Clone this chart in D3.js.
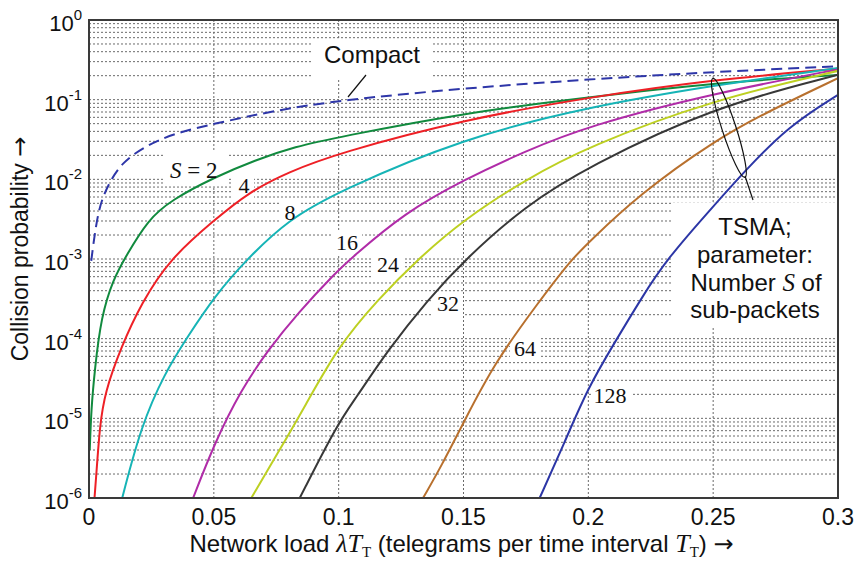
<!DOCTYPE html>
<html>
<head>
<meta charset="utf-8">
<script src="https://cdn.jsdelivr.net/npm/d3@7"></script>
<style>
  body { margin: 0; background: #fff; }
  svg { display: block; }
</style>
</head>
<body>
<div id="chart"></div>
<script>
// x ticks (network load) and y decades
const loadTicks = [0, 0.05, 0.1, 0.15, 0.2, 0.25, 0.3];
const loadTickLabels = ["0", "0.05", "0.1", "0.15", "0.2", "0.25", "0.3"];
const decadeExps = [0, -1, -2, -3, -4, -5, -6];

// Compact telegram (dashed)
const loadCompact = [0.0009, 0.0036, 0.0076, 0.0129, 0.0223, 0.0343, 0.0503, 0.0744, 0.1, 0.15, 0.2, 0.25, 0.3];
const probCompact = [9.5e-4, 4.3e-3, 8.5e-3, 1.6e-2, 2.6e-2, 3.8e-2, 5.0e-2, 7.3e-2, 0.098, 0.139, 0.18, 0.223, 0.262];

// TSMA, S = 2
const loadS2 = [0.0003, 0.0009, 0.0023, 0.0049, 0.0096, 0.0149, 0.0236, 0.0329, 0.0505, 0.0665, 0.0825, 0.1, 0.15, 0.2, 0.25, 0.3];
const probS2 = [4.0e-6, 1.3e-5, 4.1e-5, 1.9e-4, 5.5e-4, 1.1e-3, 3.1e-3, 5.5e-3, 1.07e-2, 1.74e-2, 2.57e-2, 3.4e-2, 6.8e-2, 0.107, 0.162, 0.204];

// S = 4
const loadS4 = [0.0022, 0.0029, 0.0043, 0.0063, 0.0129, 0.021, 0.0323, 0.0503, 0.0637, 0.0797, 0.1, 0.15, 0.2, 0.25, 0.3];
const probS4 = [1.0e-6, 1.9e-6, 7.9e-6, 2.1e-5, 7.9e-5, 2.8e-4, 1.0e-3, 3.1e-3, 6.8e-3, 1.23e-2, 2.14e-2, 5.6e-2, 0.107, 0.178, 0.245];

// S = 8
const loadS8 = [0.0133, 0.0208, 0.0303, 0.0396, 0.0503, 0.063, 0.0797, 0.1, 0.15, 0.2, 0.25, 0.3];
const probS8 = [1.0e-6, 7.9e-6, 3.7e-5, 1.07e-4, 3.4e-4, 9.8e-4, 3.1e-3, 7.1e-3, 3.3e-2, 8.1e-2, 0.151, 0.25];

// S = 16
const loadS16 = [0.0417, 0.0503, 0.061, 0.0717, 0.0837, 0.0989, 0.105, 0.1264, 0.15, 0.1745, 0.2, 0.25, 0.3];
const probS16 = [1.0e-6, 4.9e-6, 2.3e-5, 7.2e-5, 2.1e-4, 6.8e-4, 1.02e-3, 3.8e-3, 9.8e-3, 2.24e-2, 4.7e-2, 0.12, 0.24];

// S = 24
const loadS24 = [0.065, 0.0757, 0.0864, 0.0997, 0.1157, 0.1318, 0.15, 0.1745, 0.2, 0.25, 0.3];
const probS24 = [1.0e-6, 3.7e-6, 1.4e-5, 7.9e-5, 3.1e-4, 1.0e-3, 3.1e-3, 9.8e-3, 2.6e-2, 0.1, 0.23];

// S = 32
const loadS32 = [0.0844, 0.0997, 0.1064, 0.1197, 0.1358, 0.1505, 0.1745, 0.2, 0.25, 0.3];
const probS32 = [1.0e-6, 8.7e-6, 1.7e-5, 7.2e-5, 3.1e-4, 9.8e-4, 4.6e-3, 1.45e-2, 8.1e-2, 0.205];

// S = 64
const loadS64 = [0.1338, 0.1411, 0.1505, 0.1625, 0.1798, 0.1931, 0.2, 0.2199, 0.2507, 0.272, 0.3];
const probS64 = [1.0e-6, 2.5e-6, 9.5e-6, 5.0e-5, 2.8e-4, 9.8e-4, 1.6e-3, 6.3e-3, 3.1e-2, 7.1e-2, 0.186];

// S = 128
const loadS128 = [0.1805, 0.1905, 0.1998, 0.2105, 0.2212, 0.2312, 0.2506, 0.2626, 0.2799, 0.3];
const probS128 = [1.0e-6, 5.0e-6, 2.4e-5, 8.9e-5, 3.2e-4, 9.8e-4, 4.8e-3, 1.26e-2, 4.6e-2, 0.115];

const series = [
  {name: "Compact", load: loadCompact, prob: probCompact, color: "#2e36a8", dash: "11,6"},
  {name: "2", load: loadS2, prob: probS2, color: "#118a3e"},
  {name: "4", load: loadS4, prob: probS4, color: "#ee2026"},
  {name: "8", load: loadS8, prob: probS8, color: "#16b4b6"},
  {name: "16", load: loadS16, prob: probS16, color: "#b02ca8"},
  {name: "24", load: loadS24, prob: probS24, color: "#bdd022"},
  {name: "32", load: loadS32, prob: probS32, color: "#383838"},
  {name: "64", load: loadS64, prob: probS64, color: "#b8702e"},
  {name: "128", load: loadS128, prob: probS128, color: "#2c36a6"}
];

const width = 856, height = 561;
const margin = {top: 20, right: 18, bottom: 63, left: 89};
const innerW = width - margin.left - margin.right,
      innerH = height - margin.top - margin.bottom;

const sans = "Liberation Sans, Arial, sans-serif";
const serif = "Liberation Serif, Times New Roman, serif";

const x = d3.scaleLinear().domain([0, 0.3]).range([0, innerW]);
const y = d3.scaleLog().domain([1e-6, 1]).range([innerH, 0]);

const svg = d3.select("#chart").append("svg")
  .attr("width", width).attr("height", height);

const g = svg.append("g")
  .attr("transform", "translate(" + margin.left + "," + margin.top + ")");

g.append("defs").append("clipPath").attr("id", "plotClip")
  .append("rect").attr("width", innerW).attr("height", innerH);

// grid
const gridVals = [];
decadeExps.forEach(e => {
  if (e === 0) return;
  for (let m = 1; m <= 9; m++) gridVals.push(m * Math.pow(10, e));
});
const grid = g.append("g").attr("class", "grid");
grid.selectAll("line.h")
  .data(gridVals.filter(v => v > 1e-6 && v < 1))
  .enter().append("line")
  .attr("x1", 0).attr("x2", innerW)
  .attr("y1", d => y(d)).attr("y2", d => y(d))
  .style("stroke", "#6a6a6a").style("stroke-width", 1)
  .style("stroke-dasharray", "2,2");
grid.selectAll("line.v")
  .data(loadTicks.slice(1, -1))
  .enter().append("line")
  .attr("x1", d => x(d)).attr("x2", d => x(d))
  .attr("y1", 0).attr("y2", innerH)
  .style("stroke", "#6a6a6a").style("stroke-width", 1)
  .style("stroke-dasharray", "2,2");

// white boxes behind labels
const boxes = [
  [313 - 89, 40 - 20, 118, 38],          // Compact
  [163 - 89, 150 - 20, 64, 36],          // S = 2
  [232 - 89, 176 - 20, 22, 22],          // 4
  [279 - 89, 202 - 20, 22, 24],          // 8
  [332 - 89, 232 - 20, 30, 24],          // 16
  [373 - 89, 254 - 20, 30, 24],          // 24
  [433 - 89, 293 - 20, 30, 24],          // 32
  [510 - 89, 338 - 20, 30, 24],          // 64
  [591 - 89, 384 - 20, 40, 26],          // 128
  [673 - 89, 203 - 20, 164, 124]         // TSMA text
];
g.selectAll("rect.box").data(boxes).enter().append("rect")
  .attr("x", d => d[0]).attr("y", d => d[1])
  .attr("width", d => d[2]).attr("height", d => d[3])
  .style("fill", "#fff");

// curves
const line = d3.line()
  .x(d => x(d[0]))
  .y(d => y(d[1]))
  .curve(d3.curveBasis);

g.append("g").attr("clip-path", "url(#plotClip)")
  .selectAll("path")
  .data(series)
  .enter().append("path")
  .attr("d", d => line(d.load.map((v, i) => [v, d.prob[i]])))
  .style("fill", "none")
  .style("stroke", d => d.color)
  .style("stroke-width", 2)
  .style("stroke-dasharray", d => d.dash || null);

// frame
g.append("rect")
  .attr("width", innerW).attr("height", innerH)
  .style("fill", "none").style("stroke", "#3a3a3a").style("stroke-width", 2);

// x tick labels
g.selectAll("text.xt").data(loadTicks).enter().append("text")
  .attr("x", d => x(d)).attr("y", innerH + 27)
  .attr("text-anchor", "middle")
  .style("font-family", sans)
  .style("font-size", "23px").style("fill", "#111")
  .text((d, i) => loadTickLabels[i]);

// y tick labels 10^n
const yt = g.selectAll("text.yt").data(decadeExps).enter().append("text")
  .attr("x", -7).attr("y", d => y(Math.pow(10, d)) + 11)
  .attr("text-anchor", "end")
  .style("font-family", sans)
  .style("font-size", "22px").style("fill", "#111");
yt.append("tspan").text("10");
yt.append("tspan").attr("dy", -11).style("font-size", "15px").text(d => String(d));

// axis titles
const ylab = svg.append("text")
  .attr("transform", "translate(28," + (margin.top + innerH / 2 - 10) + ") rotate(-90)")
  .attr("text-anchor", "middle")
  .style("font-family", sans)
  .style("font-size", "23px").style("fill", "#111");
ylab.append("tspan").text("Collision probability ");
ylab.append("tspan").style("font-family", "DejaVu Sans, sans-serif").style("font-size", "24px").text("\u2192");

const xl = svg.append("text")
  .attr("x", margin.left + innerW / 2 - 2).attr("y", 552)
  .attr("text-anchor", "middle")
  .style("font-family", sans)
  .style("font-size", "24px").style("fill", "#111");
xl.append("tspan").text("Network load ");
xl.append("tspan").style("font-family", serif)
  .style("font-style", "italic").style("font-size", "26px").text("\u03bbT");
xl.append("tspan").attr("dy", 5).style("font-family", serif)
  .style("font-size", "15px").text("T");
xl.append("tspan").attr("dy", -5).text(" (telegrams per time interval ");
xl.append("tspan").style("font-family", serif)
  .style("font-style", "italic").style("font-size", "26px").text("T");
xl.append("tspan").attr("dy", 5).style("font-family", serif)
  .style("font-size", "15px").text("T");
xl.append("tspan").attr("dy", -5).text(") ");
xl.append("tspan").style("font-family", "DejaVu Sans, sans-serif").style("font-size", "24px").text("\u2192");

// curve labels
const curveLabels = [
  {t: "4", x: 244, y: 193}, {t: "8", x: 290, y: 220}, {t: "16", x: 347, y: 250},
  {t: "24", x: 388, y: 272}, {t: "32", x: 448, y: 311}, {t: "64", x: 525, y: 356},
  {t: "128", x: 610, y: 403}
];
svg.selectAll("text.cl").data(curveLabels).enter().append("text")
  .attr("x", d => d.x).attr("y", d => d.y)
  .attr("text-anchor", "middle")
  .style("font-family", serif).style("font-size", "22px").style("fill", "#111")
  .text(d => d.t);

const s2 = svg.append("text").attr("x", 170).attr("y", 178)
  .style("font-family", serif).style("font-size", "23px").style("fill", "#111");
s2.append("tspan").style("font-style", "italic").text("S");
s2.append("tspan").text(" = 2");

svg.append("text").attr("x", 372).attr("y", 63).attr("text-anchor", "middle")
  .style("font-family", sans)
  .style("font-size", "24px").style("fill", "#111").text("Compact");
svg.append("line").attr("x1", 366).attr("y1", 75).attr("x2", 348).attr("y2", 97)
  .style("stroke", "#111").style("stroke-width", 1.2);

// TSMA annotation
const tsa = svg.append("g").style("font-family", sans)
  .style("font-size", "24px").style("fill", "#111");
tsa.append("text").attr("x", 755).attr("y", 235).attr("text-anchor", "middle").text("TSMA;");
tsa.append("text").attr("x", 755).attr("y", 263).attr("text-anchor", "middle").text("parameter:");
const num = tsa.append("text").attr("x", 756).attr("y", 291).attr("text-anchor", "middle");
num.append("tspan").text("Number ");
num.append("tspan").style("font-family", serif).style("font-style", "italic").style("font-size", "25px").text("S");
num.append("tspan").text(" of");
tsa.append("text").attr("x", 755).attr("y", 318).attr("text-anchor", "middle").text("sub-packets");

svg.append("ellipse")
  .attr("transform", "translate(" + (margin.left + x(0.2563)) + "," + (margin.top + y(Math.pow(10, -1.355))) + ") rotate(-18)")
  .attr("rx", 7).attr("ry", 52)
  .style("fill", "none").style("stroke", "#111").style("stroke-width", 1.2);
svg.append("line").attr("x1", 745).attr("y1", 176).attr("x2", 753).attr("y2", 200)
  .style("stroke", "#111").style("stroke-width", 1.2);
</script>
</body>
</html>
